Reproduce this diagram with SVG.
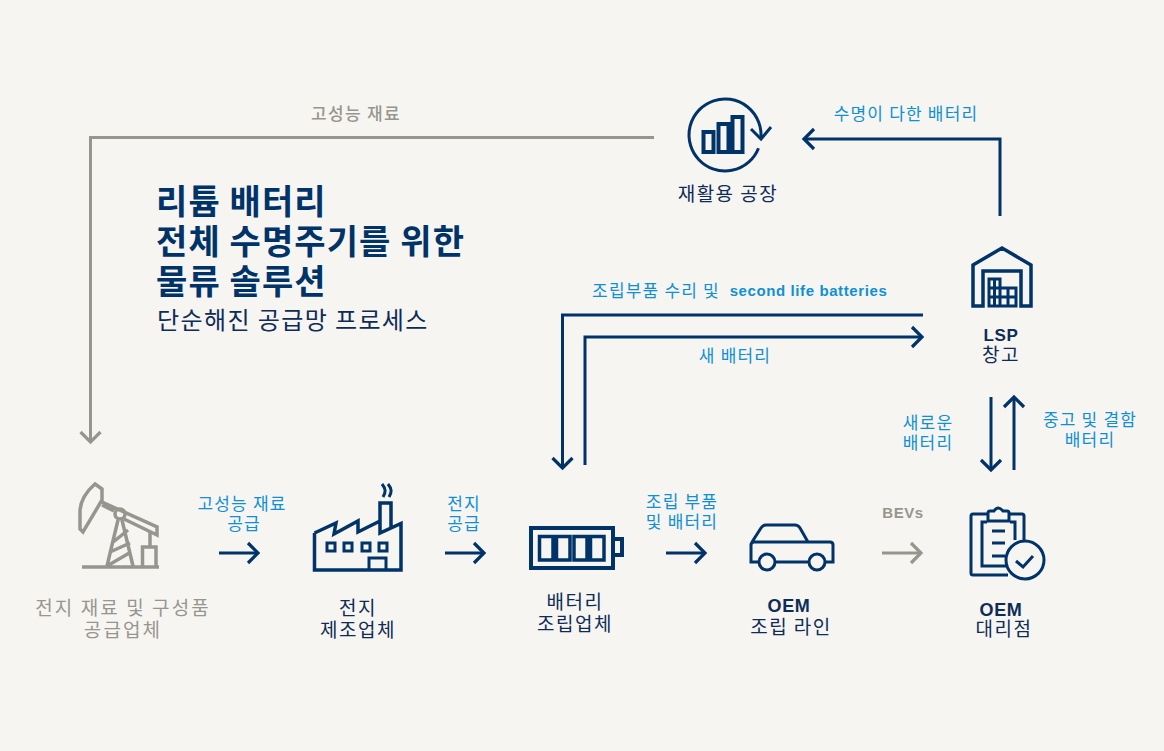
<svg xmlns="http://www.w3.org/2000/svg" width="1164" height="751" viewBox="0 0 1164 751">
<style>
text{font-family:"Noto Sans CJK KR","Noto Sans",sans-serif;text-anchor:middle}
.ic{fill:none;stroke:#003368;stroke-width:3.5}
.gi{fill:none;stroke:#97968e;stroke-width:3.5}
.c{fill:none;stroke-width:3}
.n{stroke:#003368}.g{stroke:#97968e}
.lb{font-size:17px;fill:#0f90d6;letter-spacing:1.2px}
.lg{font-size:17px;fill:#97968e;letter-spacing:1.3px;font-weight:500}
.nm{font-size:19px;fill:#0d2c56;letter-spacing:1.5px}
.gn{font-size:19px;fill:#97968e;letter-spacing:2.1px}
.la{font-family:"Liberation Sans",Arial,sans-serif;font-weight:700;letter-spacing:.6px}
.ti{font-size:34px;font-weight:700;fill:#003368;text-anchor:start;letter-spacing:1.1px}
.su{font-size:24px;fill:#0d2c56;text-anchor:start;letter-spacing:1.4px}
</style>
<defs>
<marker id="an" markerUnits="userSpaceOnUse" markerWidth="26" markerHeight="26" viewBox="-13 -13 26 26" refX="0" refY="0" orient="auto"><path d="M-10,-10L0,0L-10,10" fill="none" stroke="#003368" stroke-width="3.2"/></marker>
<marker id="ag" markerUnits="userSpaceOnUse" markerWidth="26" markerHeight="26" viewBox="-13 -13 26 26" refX="0" refY="0" orient="auto"><path d="M-10,-10L0,0L-10,10" fill="none" stroke="#97968e" stroke-width="3.2"/></marker>
</defs>
<rect width="1164" height="751" fill="#f6f5f2"/>
<g id="connectors">
<path class="c g" d="M654,137.500H90.500V442" marker-end="url(#ag)"/>
<path class="c n" d="M1000,216V139H804" marker-end="url(#an)"/>
<path class="c n" d="M923,315H562.500V468" marker-end="url(#an)"/>
<path class="c n" d="M585,465V337H922" marker-end="url(#an)"/>
<path class="c n" d="M991,397V470" marker-end="url(#an)"/>
<path class="c n" d="M1014,470V397" marker-end="url(#an)"/>
<path class="c n" d="M219,553H258" marker-end="url(#an)"/>
<path class="c n" d="M445,553H484" marker-end="url(#an)"/>
<path class="c n" d="M666,553H705" marker-end="url(#an)"/>
<path class="c g" d="M882,553H921" marker-end="url(#ag)"/>
</g>
<g id="labels">
<text class="lg" x="356" y="120">고성능 재료</text>
<text class="lb" x="906" y="120">수명이 다한 배터리</text>
<text class="lb" x="656" y="297">조립부품 수리 및</text>
<text class="lb la" x="808.500" y="296" style="font-size:15px">second life batteries</text>
<text class="lb" x="735" y="362">새 배터리</text>
<text class="lb" x="928" y="429">새로운</text><text class="lb" x="928" y="449">배터리</text>
<text class="lb" x="1090" y="426">중고 및 결함</text><text class="lb" x="1090" y="446">배터리</text>
<text class="lb" x="242" y="510">고성능 재료</text><text class="lb" x="244" y="530">공급</text>
<text class="lb" x="464" y="510">전지</text><text class="lb" x="464" y="530">공급</text>
<text class="lb" x="682" y="508">조립 부품</text><text class="lb" x="682" y="528">및 배터리</text>
<text class="lg la" x="903" y="518" style="font-size:15px">BEVs</text>
</g>
<g id="title">
<text class="ti" x="156" y="214">리튬 배터리</text>
<text class="ti" x="156" y="254">전체 수명주기를 위한</text>
<text class="ti" x="156" y="294">물류 솔루션</text>
<text class="su" x="157" y="329">단순해진 공급망 프로세스</text>
</g>
<g id="recycling">
<path class="ic" style="stroke-width:3" d="M758.500,148.200A36,36 0 1 1 760.800,139"/>
<path class="ic" style="stroke-width:3" d="M751,129L761,139L771,127"/>
<path class="ic" style="stroke-width:4" d="M703.500,132H713.500V152H703.500ZM718.500,124H728.500V152H718.500ZM732.500,117H742.500V152H732.500Z"/>
<text class="nm" x="728" y="201">재활용 공장</text>
</g>
<g id="lsp">
<path class="ic" d="M973,306V265L1002,248L1031,265V306H1021V271H983V306Z"/>
<path class="ic" style="stroke-width:3" d="M989,306V279H1000V306ZM1000,288H1016V306H1000M989,288H1000M989,297H1016M1008,288V306M994.500,279V306"/>
<text class="nm la" x="1001" y="341" style="font-size:17px">LSP</text>
<text class="nm" x="1001" y="362">창고</text>
</g>
<g id="supplier">
<path class="gi" d="M82,567H159M118,520L107,566M122,520L133,566M112,543L128,530M110,552L130,543M107,566L131,552M142.500,567V547H156V567M150,547V532"/>
<path class="gi" d="M95,484L102,489V500L83,532L80,529V510C81,499 88,490 95,484ZM102,502L157,527V535L124,519M114,511L102,505"/>
<circle class="gi" cx="120" cy="514" r="5"/>
<text class="gn" x="123" y="615">전지 재료 및 구성품</text>
<text class="gn" x="123" y="637">공급업체</text>
</g>
<g id="manufacturer">
<path class="ic" d="M314.500,533V570H401V523.500L380,533V503H391V527M314.500,533L336,523L334,534L358,521V532L380,521"/>
<path class="ic" style="stroke-width:3" d="M327,543H335V551H327ZM344,543H352V551H344ZM362,543H370V551H362ZM379,543H387V551H379ZM369,570V558H386V570"/>
<path class="ic" style="stroke-width:3" d="M382,484C386,489 386,492 383,497M388,484C392,489 392,492 389,497"/>
<text class="nm" x="358" y="615">전지</text>
<text class="nm" x="358" y="637">제조업체</text>
</g>
<g id="assembler">
<path class="ic" style="stroke-width:4" d="M531,528H613V568H531ZM613,539H622V555H613Z"/>
<path class="ic" style="stroke-width:3.500" d="M539.500,536.500H553V560H539.500ZM556.500,536.500H570V560H556.500ZM574,536.500H587V560H574ZM590.500,536.500H604V560H590.500Z"/>
<text class="nm" x="575" y="609">배터리</text>
<text class="nm" x="575" y="631">조립업체</text>
</g>
<g id="line">
<path class="ic" style="stroke-width:3" d="M752,542L761,528Q763,525 766,525H795Q798,525 800,528L808,542M759,562H751V545Q751,542 754,542H830Q833,542 833,545V562H825M775,562H809"/>
<circle class="ic" style="stroke-width:3" cx="767" cy="562" r="8"/>
<circle class="ic" style="stroke-width:3" cx="817" cy="562" r="8"/>
<text class="nm la" x="789" y="612" style="font-size:18px">OEM</text>
<text class="nm" x="791" y="634">조립 라인</text>
</g>
<g id="dealer">
<path class="ic" style="stroke-width:3" d="M987,514H973Q971,514 971,516V573Q971,575 973,575H1008M1010,514H1022Q1024,514 1024,516V540M987,522H982V566H1006M1010,522H1015V540"/>
<path class="ic" style="stroke-width:3" d="M988,521V513Q988,511 990,511H994Q998,505 1003,511H1007Q1009,511 1009,513V521Z"/>
<path class="ic" style="stroke-width:3" d="M992,531H1005M992,543H1005M992,556H1005"/>
<circle cx="1025" cy="560" r="19" fill="#f6f5f2" stroke="#003368" stroke-width="3"/>
<path class="ic" style="stroke-width:3" d="M1016,561L1023,567L1033,556"/>
<text class="nm la" x="1001" y="616" style="font-size:18px">OEM</text>
<text class="nm" x="1004" y="636">대리점</text>
</g>
</svg>
